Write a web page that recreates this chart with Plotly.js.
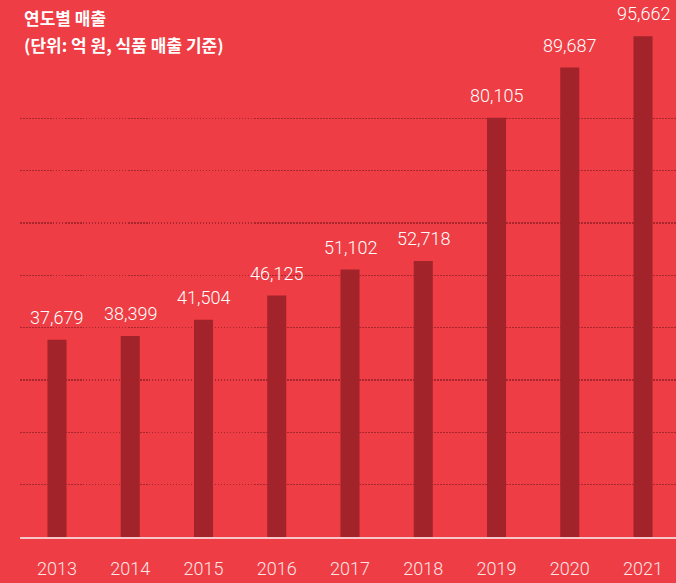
<!DOCTYPE html>
<html><head><meta charset="utf-8">
<script src="https://cdn.plot.ly/plotly-3.0.1.min.js"></script>
<style>html,body{margin:0;padding:0;background:#ee3d44;}#c{width:676px;height:583px;}</style>
</head><body><div id="c"></div>
<script>
const years = ['2013','2014','2015','2016','2017','2018','2019','2020','2021'];
const sales = [37679, 38399, 41504, 46125, 51102, 52718, 80105, 89687, 95662];
const gridVals = [10000, 20000, 30000, 40000, 50000, 60000, 70000, 80000];
const titleText = '연도별 매출';
const subtitleText = '(단위: 억 원, 식품 매출 기준)';

const bg = '#ee3d44';
const trace = {
  type: 'bar', x: years, y: sales,
  marker: {color: '#a22329'},
  hoverinfo: 'none'
};
const annotations = years.map((yr, i) => ({
  x: i, y: sales[i], xref: 'x', yref: 'y',
  text: sales[i].toLocaleString('en-US'),
  showarrow: false, yanchor: 'bottom', yshift: 10,
  font: {family: 'Roboto, sans-serif', size: 18, weight: 300, color: '#ffffff'}
}));
annotations.push({
  xref: 'paper', yref: 'paper', x: 0.003, y: 1.0, xanchor: 'left', yanchor: 'top', yshift: -3,
  text: '<b>' + titleText + '</b>', showarrow: false,
  font: {family: '"Noto Sans CJK KR", sans-serif', size: 17, color: '#ffffff'}
});
annotations.push({
  xref: 'paper', yref: 'paper', x: 0.003, y: 1.0, xanchor: 'left', yanchor: 'top', yshift: -30,
  text: '<b>' + subtitleText + '</b>', showarrow: false,
  font: {family: '"Noto Sans CJK KR", sans-serif', size: 17, color: '#ffffff'}
});

const layout = {
  width: 676, height: 583,
  paper_bgcolor: bg, plot_bgcolor: bg,
  margin: {l: 20, r: 0, t: 0, b: 46},
  bargap: 0.74,
  showlegend: false,
  xaxis: {
    type: 'category', range: [-0.505, 8.45],
    showline: true, linecolor: '#f7c6c8', linewidth: 1.5,
    showgrid: false, ticks: '', ticklabelstandoff: 15,
    tickfont: {family: 'Roboto, sans-serif', size: 18, weight: 300, color: '#fde6e7'},
    fixedrange: true
  },
  yaxis: {
    range: [0, 102600], tickmode: 'array', tickvals: gridVals,
    showticklabels: false, ticks: '',
    showgrid: true, gridcolor: '#a8262d', gridwidth: 1.5, griddash: '1.5px,1.5px',
    zeroline: false, showline: false, fixedrange: true
  },
  annotations: annotations
};
Plotly.newPlot('c', [trace], layout, {displayModeBar: false, staticPlot: true});
</script></body></html>
